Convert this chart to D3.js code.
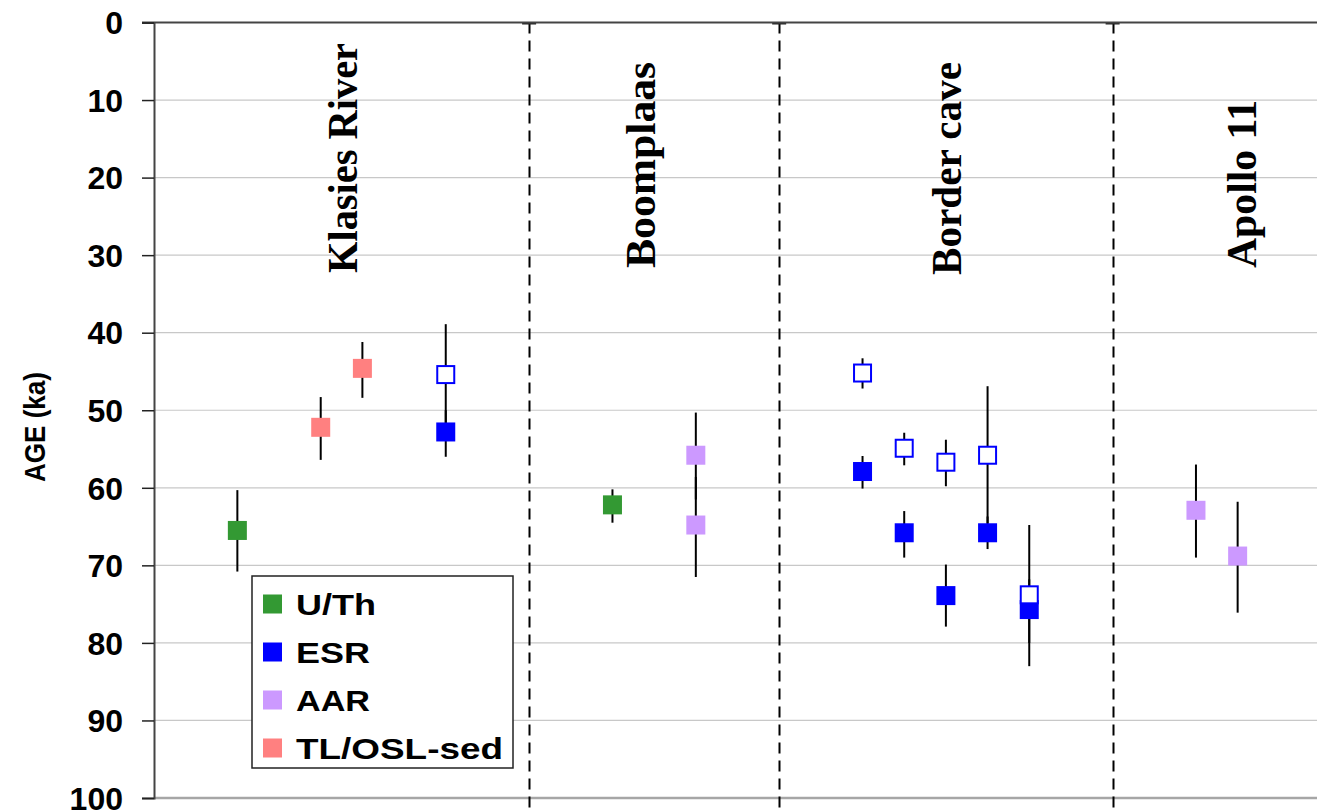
<!DOCTYPE html>
<html>
<head>
<meta charset="utf-8">
<script src="https://cdn.jsdelivr.net/npm/d3@7"></script>
<style>
  html, body { margin: 0; padding: 0; background: #fff; }
  svg { display: block; }
</style>
</head>
<body>
<svg id="chart" width="1317" height="812"></svg>
<script>
// ---------------- DATA ----------------
const sites = ["Klasies River", "Boomplaas", "Border cave", "Apollo 11"];
const methods = ["U/Th", "ESR", "AAR", "TL/OSL-sed"];
const methodColors = ["#339933", "#0000FF", "#CC99FF", "#FF8080"];
const yTicks = [0, 10, 20, 30, 40, 50, 60, 70, 80, 90, 100];
const separatorSlots = [9, 15, 23];

// each point: slot (category position), method index, age, error low, error high, open marker
const pointSlot   = [2,    4,    5,    7,    7,    11,   13,   13,   17,   17,   18,   18,   19,   19,   20,   20,   21,   21,   25,   26];
const pointMethod = [0,    3,    3,    1,    1,    0,    2,    2,    1,    1,    1,    1,    1,    1,    1,    1,    1,    1,    2,    2];
const pointAge    = [65.5, 52.2, 44.6, 52.8, 45.4, 62.2, 55.8, 64.8, 57.9, 45.2, 65.8, 54.9, 73.9, 56.7, 65.8, 55.8, 75.7, 73.8, 62.9, 68.8];
const pointLow    = [60.3, 48.3, 41.2, 50.0, 38.9, 60.2, 50.3, 58.6, 55.9, 43.3, 63.0, 52.9, 69.9, 53.8, 63.7, 46.9, 71.8, 64.8, 57.0, 61.8];
const pointHigh   = [70.8, 56.4, 48.4, 56.0, 52.0, 64.5, 61.5, 71.5, 60.1, 47.2, 69.0, 57.1, 77.9, 59.8, 67.9, 64.6, 80.0, 83.0, 69.0, 76.1];
const pointOpen   = [0,    0,    0,    0,    1,    0,    0,    0,    0,    1,    0,    1,    0,    1,    0,    1,    0,    1,    0,    0];

// ---------------- LAYOUT ----------------
const svg = d3.select("#chart");
const pLeft = 154, pRight = 1317, pTop = 22.5, pBottom = 798;
const x = d3.scaleLinear().domain([0, 28]).range([pLeft, 1321]);
const y = d3.scaleLinear().domain([0, 100]).range([pTop, pBottom]);
const sansFont = "'Liberation Sans', Arial, Helvetica, sans-serif";
const serifFont = "'Liberation Serif', 'Times New Roman', serif";

const points = pointSlot.map((s, i) => ({
  slot: s, method: pointMethod[i], age: pointAge[i],
  low: pointLow[i], high: pointHigh[i], open: pointOpen[i] === 1
}));

// gridlines
svg.append("g").selectAll("line").data(yTicks.filter(t => t > 0))
  .join("line")
  .attr("x1", pLeft).attr("x2", pRight)
  .attr("y1", d => y(d)).attr("y2", d => y(d))
  .attr("stroke", d => d === 100 ? "#a6a6a6" : "#c8c8c8")
  .attr("stroke-width", d => d === 100 ? 2.5 : 1.2);

// separators (dashed)
svg.append("g").selectAll("line").data(separatorSlots)
  .join("line")
  .attr("x1", d => Math.round(x(d)) + 0.5).attr("x2", d => Math.round(x(d)) + 0.5)
  .attr("y1", pTop).attr("y2", 812)
  .attr("stroke", "#000").attr("stroke-width", 2)
  .attr("stroke-dasharray", "11,7");

// top tick marks at separators
svg.append("g").selectAll("line").data(separatorSlots)
  .join("line")
  .attr("x1", d => x(d) - 7).attr("x2", d => x(d) + 7)
  .attr("y1", pTop + 1).attr("y2", pTop + 1)
  .attr("stroke", "#222").attr("stroke-width", 2);

// top border
svg.append("line")
  .attr("x1", pLeft - 12).attr("x2", pRight)
  .attr("y1", pTop).attr("y2", pTop)
  .attr("stroke", "#444").attr("stroke-width", 2);

// y axis
const yAxis = d3.axisLeft(y).tickValues(yTicks).tickSize(12).tickPadding(19).tickFormat(d3.format("d"));
const gy = svg.append("g").attr("transform", `translate(${pLeft},0)`).call(yAxis);
gy.select(".domain").attr("stroke", "#444").attr("stroke-width", 2);
gy.selectAll(".tick line").attr("stroke", "#222").attr("stroke-width", 1.5);
gy.selectAll(".tick text")
  .attr("font-family", sansFont).attr("font-weight", "bold")
  .attr("font-size", 32).attr("fill", "#000")
  .attr("dy", "0.35em");

// y axis title
svg.append("text")
  .attr("transform", `translate(45,427) rotate(-90)`)
  .attr("text-anchor", "middle")
  .attr("font-family", sansFont).attr("font-weight", "bold")
  .attr("font-size", 30)
  .attr("textLength", 110)
  .attr("lengthAdjust", "spacingAndGlyphs")
  .text("AGE (ka)");

// site labels (rotated, serif bold)
const siteLabelX = [357, 655, 961, 1256];
const siteLabelBottom = [273, 268, 275, 268];
const siteLabelLen = [230, 206, 213, 168];
svg.append("g").selectAll("text").data(sites)
  .join("text")
  .attr("transform", (d, i) => `translate(${siteLabelX[i]},${siteLabelBottom[i]}) rotate(-90)`)
  .attr("font-family", serifFont).attr("font-weight", "bold")
  .attr("font-size", 43)
  .attr("textLength", (d, i) => siteLabelLen[i])
  .attr("lengthAdjust", "spacingAndGlyphs")
  .text(d => d);

// error bars
svg.append("g").selectAll("line").data(points)
  .join("line")
  .attr("x1", d => x(d.slot)).attr("x2", d => x(d.slot))
  .attr("y1", d => y(d.low)).attr("y2", d => y(d.high))
  .attr("stroke", "#000").attr("stroke-width", 2);

// markers: filled first, open on top
const ms = 19;
const ordered = points.filter(p => !p.open).concat(points.filter(p => p.open));
svg.append("g").selectAll("rect").data(ordered)
  .join("rect")
  .attr("x", d => x(d.slot) - (d.open ? (ms - 2) / 2 : ms / 2))
  .attr("y", d => y(d.age) - (d.open ? (ms - 2) / 2 : ms / 2))
  .attr("width", d => d.open ? ms - 2 : ms)
  .attr("height", d => d.open ? ms - 2 : ms)
  .attr("fill", d => d.open ? "#fff" : methodColors[d.method])
  .attr("stroke", d => d.open ? methodColors[d.method] : "none")
  .attr("stroke-width", 2);

// legend
const lg = svg.append("g");
lg.append("rect")
  .attr("x", 252).attr("y", 576).attr("width", 261).attr("height", 192)
  .attr("fill", "#fff").attr("stroke", "#222").attr("stroke-width", 1.5);
const legendLen = [80, 74, 74, 207];
const legendRowY = d3.scaleLinear().domain([0, 3]).range([604, 748]);
lg.selectAll("rect.key").data(methods)
  .join("rect").attr("class", "key")
  .attr("x", 263).attr("y", (d, i) => legendRowY(i) - 9.5)
  .attr("width", 19).attr("height", 19)
  .attr("fill", (d, i) => methodColors[i]);
lg.selectAll("text").data(methods)
  .join("text")
  .attr("x", 296).attr("y", (d, i) => legendRowY(i) + 11)
  .attr("font-family", sansFont).attr("font-weight", "bold")
  .attr("font-size", 30)
  .attr("textLength", (d, i) => legendLen[i])
  .attr("lengthAdjust", "spacingAndGlyphs")
  .text(d => d);
</script>
</body>
</html>
